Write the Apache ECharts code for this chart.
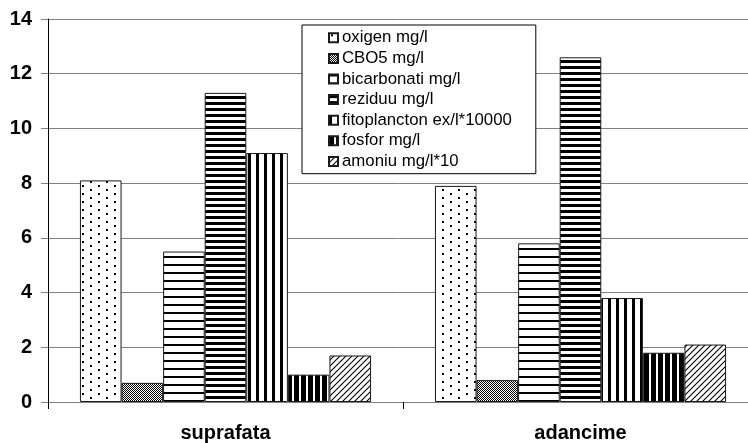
<!DOCTYPE html>
<html>
<head>
<meta charset="utf-8">
<script src="https://cdn.jsdelivr.net/npm/echarts@6/dist/echarts.min.js"></script>
<style>
html,body{margin:0;padding:0;background:#fff;}
#c{width:748px;height:443px;}
</style>
</head>
<body>
<div id="c"></div>
<script>
const categories = ['suprafata', 'adancime'];
const seriesNames = ['oxigen mg/l', 'CBO5 mg/l', 'bicarbonati mg/l', 'reziduu mg/l', 'fitoplancton ex/l*10000', 'fosfor mg/l', 'amoniu mg/l*10'];
const oxigen = [8.1, 7.9];
const cbo5 = [0.7, 0.8];
const bicarbonati = [5.5, 5.8];
const reziduu = [11.3, 12.6];
const fitoplancton = [9.1, 3.8];
const fosfor = [1.0, 1.8];
const amoniu = [1.7, 2.1];
const yMin = 0, yMax = 14, yStep = 2;

function tile(w, h, draw) {
  const c = document.createElement('canvas');
  c.width = w; c.height = h;
  const g = c.getContext('2d');
  g.fillStyle = '#fff';
  g.fillRect(0, 0, w, h);
  g.fillStyle = '#000';
  g.strokeStyle = '#000';
  draw(g);
  return { image: c, repeat: 'repeat' };
}
const patterns = [
  tile(16, 8, g => { g.fillRect(2, 1, 2, 2); g.fillRect(10, 5, 2, 2); }),
  tile(4, 4, g => { [[0,0],[2,0],[1,1],[3,1],[0,2],[2,2],[1,3],[3,3]].forEach(p => g.fillRect(p[0], p[1], 1, 1)); }),
  tile(8, 8, g => { g.fillRect(0, 0, 8, 2); }),
  tile(6, 6, g => { g.fillRect(0, 0, 6, 3); }),
  tile(8, 8, g => { g.fillRect(0, 0, 3, 8); }),
  tile(7, 7, g => { g.fillRect(0, 0, 5, 7); }),
  tile(6, 6, g => {
    g.lineWidth = 1.1;
    g.beginPath();
    g.moveTo(-1, 7); g.lineTo(7, -1);
    g.moveTo(-1, 1); g.lineTo(1, -1);
    g.moveTo(5, 7); g.lineTo(7, 5);
    g.stroke();
  })
];
const values = [oxigen, cbo5, bicarbonati, reziduu, fitoplancton, fosfor, amoniu];
const font = "'Liberation Sans', Arial, sans-serif";

const chart = echarts.init(document.getElementById('c'), null, { renderer: 'canvas' });
chart.setOption({
  animation: false,
  backgroundColor: '#fff',
  grid: { left: 48, top: 19, right: -10, bottom: 41, containLabel: false, outerBoundsMode: 'none' },
  legend: {
    orient: 'vertical',
    left: 302,
    top: 25,
    padding: [2.5, 24, 2, 26],
    itemGap: 0,
    itemWidth: 9,
    itemHeight: 9,
    icon: 'rect',
    backgroundColor: '#fff',
    borderColor: '#000',
    borderWidth: 1,
    borderRadius: 0,
    selectedMode: false,
    textStyle: { fontFamily: font, fontSize: 16.8, color: '#000', lineHeight: 20.6, padding: [0, 0, 0, -1] },
    data: seriesNames
  },
  xAxis: {
    type: 'category',
    data: categories,
    axisLine: { show: true, lineStyle: { color: '#808080', width: 1 } },
    axisTick: { show: true, length: 7, lineStyle: { color: '#000' } },
    axisLabel: { margin: 21, fontFamily: font, fontSize: 20, fontWeight: 'bold', color: '#000' },
    splitLine: { show: false }
  },
  yAxis: {
    type: 'value',
    min: yMin, max: yMax, interval: yStep,
    axisLine: { show: true, lineStyle: { color: '#000', width: 1 } },
    axisTick: { show: true, length: 7, lineStyle: { color: '#808080' } },
    axisLabel: { margin: 16, fontFamily: font, fontSize: 20, fontWeight: 'bold', color: '#000' },
    splitLine: { show: true, lineStyle: { color: '#808080', width: 1 } }
  },
  series: seriesNames.map((name, i) => ({
    name: name,
    type: 'bar',
    data: values[i],
    barGap: '0%',
    barCategoryGap: '18%',
    itemStyle: { color: patterns[i], borderColor: '#1a1a1a', borderWidth: 1 },
    emphasis: { disabled: true }
  }))
});
</script>
</body>
</html>
